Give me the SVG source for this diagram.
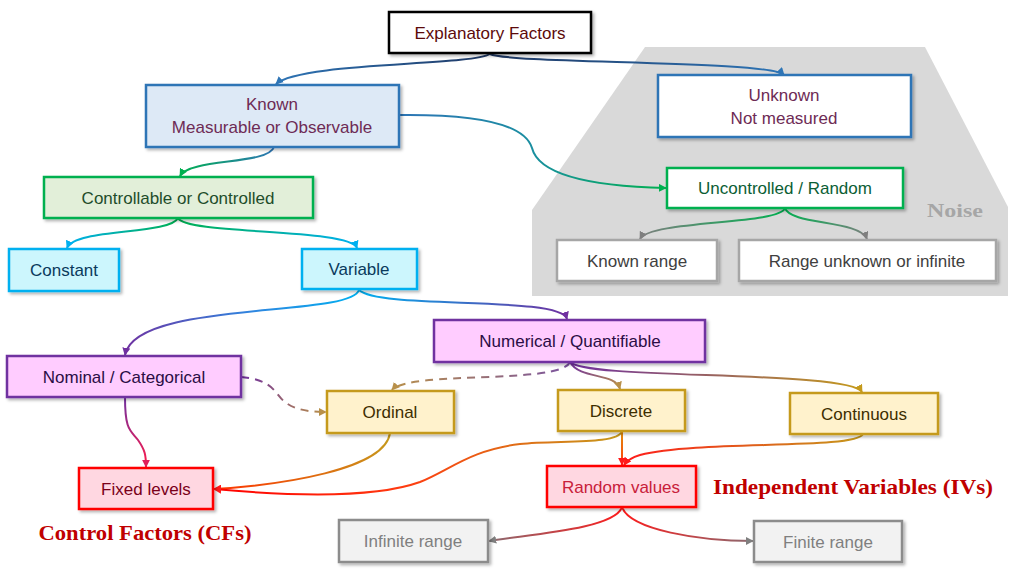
<svg xmlns="http://www.w3.org/2000/svg" width="1024" height="576" viewBox="0 0 1024 576">
<defs>
<style>
.t{font-family:"Liberation Sans",Arial,sans-serif;font-size:17px;text-anchor:middle;dominant-baseline:central}
.b{font-family:"Liberation Serif","Times New Roman",serif;font-weight:bold;text-anchor:middle;dominant-baseline:central}
.box{stroke-width:2.5;filter:url(#sh)}
.c{fill:none;stroke-width:2}
</style>
<filter id="sh" x="-10%" y="-20%" width="125%" height="150%"><feDropShadow dx="2" dy="2" stdDeviation="1.5" flood-color="#000" flood-opacity="0.3"/></filter>
<marker id="mBlue" viewBox="0 0 10 10" refX="9" refY="5" markerWidth="8" markerHeight="8" markerUnits="userSpaceOnUse" orient="auto"><path d="M0,0L10,5L0,10z" fill="#2e75b6"/></marker>
<marker id="mGreen" viewBox="0 0 10 10" refX="9" refY="5" markerWidth="8" markerHeight="8" markerUnits="userSpaceOnUse" orient="auto"><path d="M0,0L10,5L0,10z" fill="#00b050"/></marker>
<marker id="mCyan" viewBox="0 0 10 10" refX="9" refY="5" markerWidth="8" markerHeight="8" markerUnits="userSpaceOnUse" orient="auto"><path d="M0,0L10,5L0,10z" fill="#00b0f0"/></marker>
<marker id="mPurple" viewBox="0 0 10 10" refX="9" refY="5" markerWidth="8" markerHeight="8" markerUnits="userSpaceOnUse" orient="auto"><path d="M0,0L10,5L0,10z" fill="#7030a0"/></marker>
<marker id="mTan" viewBox="0 0 10 10" refX="9" refY="5" markerWidth="8" markerHeight="8" markerUnits="userSpaceOnUse" orient="auto"><path d="M0,0L10,5L0,10z" fill="#b8904a"/></marker>
<marker id="mGold" viewBox="0 0 10 10" refX="9" refY="5" markerWidth="8" markerHeight="8" markerUnits="userSpaceOnUse" orient="auto"><path d="M0,0L10,5L0,10z" fill="#c59a1c"/></marker>
<marker id="mCrimson" viewBox="0 0 10 10" refX="9" refY="5" markerWidth="8" markerHeight="8" markerUnits="userSpaceOnUse" orient="auto"><path d="M0,0L10,5L0,10z" fill="#e0205a"/></marker>
<marker id="mRed" viewBox="0 0 10 10" refX="9" refY="5" markerWidth="8" markerHeight="8" markerUnits="userSpaceOnUse" orient="auto"><path d="M0,0L10,5L0,10z" fill="#ff1a1a"/></marker>
<marker id="mGray" viewBox="0 0 10 10" refX="9" refY="5" markerWidth="8" markerHeight="8" markerUnits="userSpaceOnUse" orient="auto"><path d="M0,0L10,5L0,10z" fill="#7f7f7f"/></marker>
<linearGradient id="gEK" gradientUnits="userSpaceOnUse" x1="490" y1="54" x2="276" y2="84"><stop offset="0" stop-color="#1f3864"/><stop offset="1" stop-color="#2e75b6"/></linearGradient>
<linearGradient id="gEU" gradientUnits="userSpaceOnUse" x1="490" y1="54" x2="784" y2="75"><stop offset="0" stop-color="#1f3864"/><stop offset="1" stop-color="#2e75b6"/></linearGradient>
<linearGradient id="gKC" gradientUnits="userSpaceOnUse" x1="274" y1="147" x2="180" y2="176"><stop offset="0" stop-color="#2e75b6"/><stop offset="1" stop-color="#00b050"/></linearGradient>
<linearGradient id="gKU" gradientUnits="userSpaceOnUse" x1="399" y1="115" x2="667" y2="188"><stop offset="0" stop-color="#2e75b6"/><stop offset="0.5" stop-color="#1a8fa0"/><stop offset="1" stop-color="#00b050"/></linearGradient>
<linearGradient id="gCc" gradientUnits="userSpaceOnUse" x1="178" y1="218" x2="67" y2="248"><stop offset="0" stop-color="#00b050"/><stop offset="1" stop-color="#00b0f0"/></linearGradient>
<linearGradient id="gCv" gradientUnits="userSpaceOnUse" x1="178" y1="218" x2="357" y2="248"><stop offset="0" stop-color="#00b050"/><stop offset="1" stop-color="#00b0f0"/></linearGradient>
<linearGradient id="gUk" gradientUnits="userSpaceOnUse" x1="785" y1="208" x2="640" y2="240"><stop offset="0" stop-color="#00b050"/><stop offset="1" stop-color="#7f7f7f"/></linearGradient>
<linearGradient id="gUr" gradientUnits="userSpaceOnUse" x1="785" y1="208" x2="867" y2="240"><stop offset="0" stop-color="#00b050"/><stop offset="1" stop-color="#7f7f7f"/></linearGradient>
<linearGradient id="gVN" gradientUnits="userSpaceOnUse" x1="359" y1="290" x2="125" y2="355"><stop offset="0" stop-color="#00b0f0"/><stop offset="0.45" stop-color="#2f86e0"/><stop offset="1" stop-color="#7030a0"/></linearGradient>
<linearGradient id="gVQ" gradientUnits="userSpaceOnUse" x1="359" y1="290" x2="567" y2="320"><stop offset="0" stop-color="#00b0f0"/><stop offset="1" stop-color="#7030a0"/></linearGradient>
<linearGradient id="gQO" gradientUnits="userSpaceOnUse" x1="570" y1="362" x2="392" y2="390"><stop offset="0" stop-color="#7a52a0"/><stop offset="1" stop-color="#b8904a"/></linearGradient>
<linearGradient id="gQD" gradientUnits="userSpaceOnUse" x1="570" y1="362" x2="620" y2="390"><stop offset="0" stop-color="#7030a0"/><stop offset="1" stop-color="#b8904a"/></linearGradient>
<linearGradient id="gQC" gradientUnits="userSpaceOnUse" x1="570" y1="362" x2="862" y2="393"><stop offset="0" stop-color="#7030a0"/><stop offset="1" stop-color="#c59a1c"/></linearGradient>
<linearGradient id="gNO" gradientUnits="userSpaceOnUse" x1="241" y1="377" x2="326" y2="412"><stop offset="0" stop-color="#7030a0"/><stop offset="1" stop-color="#b8904a"/></linearGradient>
<linearGradient id="gNF" gradientUnits="userSpaceOnUse" x1="125" y1="397" x2="146" y2="467"><stop offset="0" stop-color="#7030a0"/><stop offset="1" stop-color="#ff1a4a"/></linearGradient>
<linearGradient id="gOF" gradientUnits="userSpaceOnUse" x1="390" y1="433" x2="214" y2="489"><stop offset="0" stop-color="#c59a1c"/><stop offset="1" stop-color="#ff3300"/></linearGradient>
<linearGradient id="gDF" gradientUnits="userSpaceOnUse" x1="622" y1="431" x2="214" y2="489"><stop offset="0" stop-color="#c59a1c"/><stop offset="0.55" stop-color="#ff3a10"/><stop offset="1" stop-color="#ff0000"/></linearGradient>
<linearGradient id="gDR" gradientUnits="userSpaceOnUse" x1="622" y1="431" x2="622" y2="466"><stop offset="0" stop-color="#e0900a"/><stop offset="1" stop-color="#ff3a10"/></linearGradient>
<linearGradient id="gCR" gradientUnits="userSpaceOnUse" x1="863" y1="434" x2="624" y2="466"><stop offset="0" stop-color="#c59a1c"/><stop offset="1" stop-color="#ff1a1a"/></linearGradient>
<linearGradient id="gRI" gradientUnits="userSpaceOnUse" x1="622" y1="507" x2="489" y2="541"><stop offset="0" stop-color="#ff1a1a"/><stop offset="1" stop-color="#8a6a70"/></linearGradient>
<linearGradient id="gRF" gradientUnits="userSpaceOnUse" x1="622" y1="507" x2="753" y2="541"><stop offset="0" stop-color="#ff1a1a"/><stop offset="1" stop-color="#8a6a70"/></linearGradient>
</defs>
<rect width="1024" height="576" fill="#ffffff"/>

<g id="noise-area">
<path d="M645,47 L925,47 L1008,207 L1008,296 L532,296 L532,210 Z" fill="#d9d9d9"/>
<text class="b" x="955" y="210" font-size="19" textLength="56" lengthAdjust="spacingAndGlyphs" fill="#a6a6a6">Noise</text>
</g>

<g id="connectors">
<path class="c" d="M490,54 C470,66 300,62 276,84" stroke="url(#gEK)" marker-end="url(#mBlue)"/>
<path class="c" d="M490,54 C510,64 770,60 784,75" stroke="url(#gEU)" marker-end="url(#mBlue)"/>
<path class="c" d="M274,147 C268,165 190,158 180,176" stroke="url(#gKC)" marker-end="url(#mGreen)"/>
<path class="c" d="M399,115 C480,114 525,125 532,148 C538,172 580,186 666,188" stroke="url(#gKU)" marker-end="url(#mGreen)"/>
<path class="c" d="M178,218 C170,235 75,228 67,248" stroke="url(#gCc)" marker-end="url(#mCyan)"/>
<path class="c" d="M178,218 C186,235 350,228 357,248" stroke="url(#gCv)" marker-end="url(#mCyan)"/>
<path class="c" d="M785,208 C780,225 650,220 640,239" stroke="url(#gUk)" marker-end="url(#mGray)"/>
<path class="c" d="M785,208 C790,225 860,220 867,239" stroke="url(#gUr)" marker-end="url(#mGray)"/>
<path class="c" d="M359,290 C350,318 135,300 125,355" stroke="url(#gVN)" marker-end="url(#mPurple)"/>
<path class="c" d="M359,290 C380,310 560,295 567,319" stroke="url(#gVQ)" marker-end="url(#mPurple)"/>
<path class="c" d="M570,362 C560,385 410,370 392,390" stroke="url(#gQO)" stroke-dasharray="8,6" marker-end="url(#mTan)"/>
<path class="c" d="M570,362 C580,380 615,372 620,389" stroke="url(#gQD)" marker-end="url(#mTan)"/>
<path class="c" d="M570,362 C585,380 850,370 862,392" stroke="url(#gQC)" marker-end="url(#mGold)"/>
<path class="c" d="M241,377 C275,380 275,395 285,402 C295,410 310,412 326,412" stroke="url(#gNO)" stroke-dasharray="8,6" marker-end="url(#mTan)"/>
<path class="c" d="M125,397 C125,430 130,430 138,440 C145,450 146,455 146,467" stroke="url(#gNF)" marker-end="url(#mCrimson)"/>
<path class="c" d="M390,433 C385,470 280,485 214,489" stroke="url(#gOF)" marker-end="url(#mRed)"/>
<path class="c" d="M622,431 C618,445 560,440 520,444 C470,450 450,470 420,482 C370,500 280,495 214,489" stroke="url(#gDF)" marker-end="url(#mRed)"/>
<path class="c" d="M622,431 L622,465" stroke="url(#gDR)" marker-end="url(#mRed)"/>
<path class="c" d="M863,434 C855,450 700,440 640,455 C630,458 626,462 624,465" stroke="url(#gCR)" marker-end="url(#mRed)"/>
<path class="c" d="M622,507 C615,530 520,535 489,541" stroke="url(#gRI)" marker-end="url(#mGray)"/>
<path class="c" d="M622,507 C630,530 700,541 753,541" stroke="url(#gRF)" marker-end="url(#mGray)"/>
</g>

<g id="explanatory">
<rect class="box" x="389" y="12" width="202" height="41" fill="#ffffff" stroke="#000000"/>
<text class="t" x="490" y="33" fill="#5c0a0a">Explanatory Factors</text>
</g>
<g id="known">
<rect class="box" x="146" y="85" width="253" height="62" fill="#dde9f6" stroke="#2e75b6"/>
<text class="t" x="272" y="104" fill="#6e2b55">Known</text>
<text class="t" x="272" y="127" fill="#6e2b55">Measurable or Observable</text>
</g>
<g id="unknown">
<rect class="box" x="658" y="75" width="253" height="62" fill="#ffffff" stroke="#2e75b6"/>
<text class="t" x="784" y="95" fill="#6e2b55">Unknown</text>
<text class="t" x="784" y="118" fill="#6e2b55">Not measured</text>
</g>
<g id="uncontrolled">
<rect class="box" x="667" y="168" width="236" height="40" fill="#ffffff" stroke="#00b050"/>
<text class="t" x="785" y="188" fill="#0b5e35">Uncontrolled / Random</text>
</g>
<g id="known-range">
<rect class="box" x="557" y="240" width="160" height="41" fill="#ffffff" stroke="#a6a6a6"/>
<text class="t" x="637" y="261" fill="#404040">Known range</text>
</g>
<g id="range-unknown">
<rect class="box" x="739" y="240" width="257" height="41" fill="#ffffff" stroke="#a6a6a6"/>
<text class="t" x="867" y="261" fill="#404040">Range unknown or infinite</text>
</g>
<g id="controllable">
<rect class="box" x="44" y="177" width="269" height="41" fill="#e2efd9" stroke="#00b050"/>
<text class="t" x="178" y="198" fill="#1e4d2b">Controllable or Controlled</text>
</g>
<g id="constant">
<rect class="box" x="9" y="249" width="110" height="42" fill="#ccf6fd" stroke="#00b0f0"/>
<text class="t" x="64" y="270" fill="#0a3a5c">Constant</text>
</g>
<g id="variable">
<rect class="box" x="302" y="249" width="115" height="40" fill="#ccf6fd" stroke="#00b0f0"/>
<text class="t" x="359" y="269" fill="#0a3a5c">Variable</text>
</g>
<g id="nominal">
<rect class="box" x="7" y="356" width="234" height="41" fill="#ffccff" stroke="#7030a0"/>
<text class="t" x="124" y="377" fill="#2b0d45">Nominal / Categorical</text>
</g>
<g id="numerical">
<rect class="box" x="434" y="320" width="271" height="42" fill="#ffccff" stroke="#7030a0"/>
<text class="t" x="570" y="341" fill="#2b0d45">Numerical / Quantifiable</text>
</g>
<g id="ordinal">
<rect class="box" x="327" y="391" width="127" height="42" fill="#fff2cc" stroke="#c59a1c"/>
<text class="t" x="390" y="412" fill="#3d2e00">Ordinal</text>
</g>
<g id="discrete">
<rect class="box" x="558" y="390" width="127" height="41" fill="#fff2cc" stroke="#c59a1c"/>
<text class="t" x="621" y="411" fill="#3d2e00">Discrete</text>
</g>
<g id="continuous">
<rect class="box" x="790" y="393" width="148" height="41" fill="#fff2cc" stroke="#c59a1c"/>
<text class="t" x="864" y="414" fill="#3d2e00">Continuous</text>
</g>
<g id="fixed-levels">
<rect class="box" x="79" y="468" width="134" height="41" fill="#ffd7e1" stroke="#ff0000"/>
<text class="t" x="146" y="489" fill="#7a0019">Fixed levels</text>
</g>
<g id="random-values">
<rect class="box" x="547" y="466" width="149" height="41" fill="#ffd7e1" stroke="#ff0000"/>
<text class="t" x="621" y="487" fill="#c8203a">Random values</text>
</g>
<g id="infinite-range">
<rect class="box" x="339" y="520" width="149" height="42" fill="#f2f2f2" stroke="#8c8c8c"/>
<text class="t" x="413" y="541" fill="#7f7f7f">Infinite range</text>
</g>
<g id="finite-range">
<rect class="box" x="754" y="521" width="148" height="41" fill="#f2f2f2" stroke="#8c8c8c"/>
<text class="t" x="828" y="542" fill="#7f7f7f">Finite range</text>
</g>
<g id="labels">
<text class="b" x="853" y="487" font-size="21" textLength="280" lengthAdjust="spacingAndGlyphs" fill="#c00000">Independent Variables (IVs)</text>
<text class="b" x="145" y="533" font-size="21" textLength="213" lengthAdjust="spacingAndGlyphs" fill="#c00000">Control Factors (CFs)</text>
</g>
</svg>
